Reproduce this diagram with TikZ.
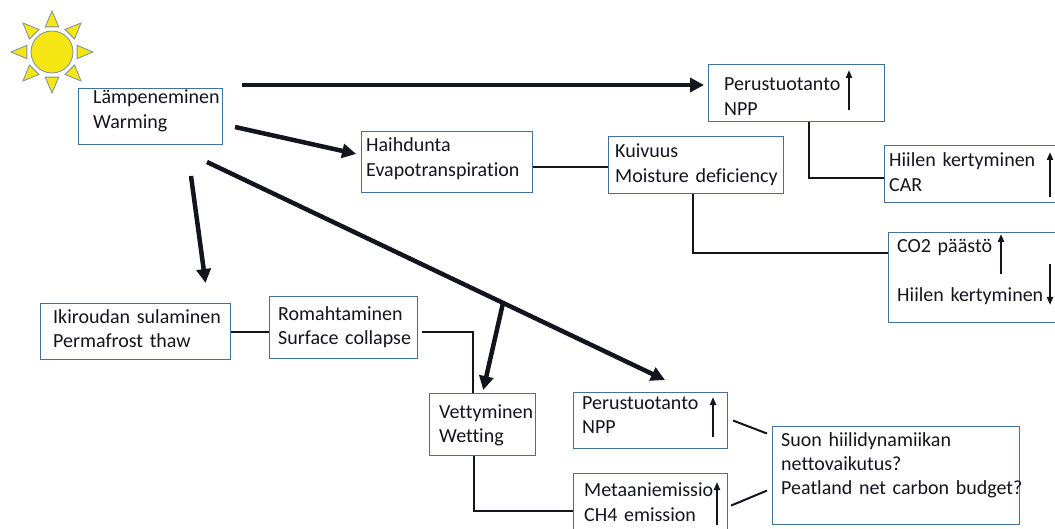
\documentclass[tikz,border=0pt]{standalone}
\usepackage{fontspec}
\setmainfont{Carlito}[Ligatures=NoCommon]
\usepackage{tikz}
\usetikzlibrary{arrows.meta}
\definecolor{boxblue}{RGB}{65,113,156}
\definecolor{sunyellow}{RGB}{245,230,20}
\definecolor{sunedge}{RGB}{120,143,165}
\definecolor{ink}{RGB}{20,20,30}

\begin{document}
\begin{tikzpicture}[x=1pt, y=-1pt,
		box/.style={draw=boxblue, line width=1.1pt, rectangle, anchor=north west, inner sep=0pt},
		txt/.style={anchor=base west, inner sep=0pt, text width=260pt, align=left, text=ink, font=\fontsize{20}{24.4}\selectfont},
		big/.style={draw=ink, line width=4.5pt, -{Triangle[length=14pt,width=14pt]}},
		link/.style={draw=ink, line width=2pt},
		updown/.style={draw=ink, line width=2pt, -{Triangle[length=8pt,width=6pt]}},
		sunray/.style={fill=sunyellow, draw=sunedge, line width=0.8pt}]
		\clip (0,0) rectangle (1055,529);
		\coordinate (sun) at (52,52);
		\foreach \a in {0,45,...,315}
			\filldraw[sunray, shift={(sun)}] (\a-15:26) -- (\a:41) -- (\a+15:26) -- cycle;
		\filldraw[sunray] (sun) circle (21pt);
		\node[box, minimum width=144pt, minimum height=56pt] (warm) at (78,88) {};
		\node[box, minimum width=176pt, minimum height=57pt] (per1) at (708,64) {};
		\node[box, minimum width=181pt, minimum height=57pt] (car) at (884,145) {};
		\node[box, minimum width=180pt, minimum height=90pt] (co2) at (888,232) {};
		\node[box, minimum width=171pt, minimum height=61pt] (haih) at (361,131) {};
		\node[box, minimum width=175pt, minimum height=57pt] (kuiv) at (608,136) {};
		\node[box, minimum width=190pt, minimum height=56pt] (iki) at (40,303) {};
		\node[box, minimum width=148pt, minimum height=62pt] (rom) at (269,296) {};
		\node[box, minimum width=106pt, minimum height=62pt] (vet) at (429,393) {};
		\node[box, minimum width=154pt, minimum height=56pt] (per2) at (573,392) {};
		\node[box, minimum width=154pt, minimum height=74pt] (meta) at (573,473) {};
		\node[box, minimum width=247pt, minimum height=98pt] (suon) at (772,426) {};
		\node[txt] (warm-t) at ([xshift=15pt,yshift=-16pt]warm.north west) {Lämpeneminen\\Warming};
		\node[txt] (per1-t) at ([xshift=16pt,yshift=-27pt]per1.north west) {Perustuotanto\\NPP};
		\node[txt] (car-t) at ([xshift=5pt,yshift=-21.7pt]car.north west) {Hiilen kertyminen\\CAR};
		\node[txt] (co2-t) at ([xshift=9pt,yshift=-20.7pt]co2.north west) {CO2 päästö\\[24pt]Hiilen kertyminen};
		\node[txt] (haih-t) at ([xshift=5pt,yshift=-21pt]haih.north west) {Haihdunta\\Evapotranspiration};
		\node[txt] (kuiv-t) at ([xshift=7pt,yshift=-21.7pt]kuiv.north west) {Kuivuus\\Moisture deficiency};
		\node[txt] (iki-t) at ([xshift=13pt,yshift=-20.3pt]iki.north west) {Ikiroudan sulaminen\\Permafrost thaw};
		\node[txt] (rom-t) at ([xshift=9pt,yshift=-24pt]rom.north west) {Romahtaminen\\Surface collapse};
		\node[txt] (vet-t) at ([xshift=10pt,yshift=-25.3pt]vet.north west) {Vettyminen\\Wetting};
		\node[txt] (per2-t) at ([xshift=9pt,yshift=-17.3pt]per2.north west) {Perustuotanto\\NPP};
		\node[txt] (meta-t) at ([xshift=11pt,yshift=-23.7pt]meta.north west) {Metaaniemissio\\CH4 emission};
		\node[txt] (suon-t) at ([xshift=9pt,yshift=-20pt]suon.north west) {Suon hiilidynamiikan\\nettovaikutus?\\Peatland net carbon budget?};
		\coordinate (w1) at (242,85);
		\coordinate (w2) at (235,127);
		\coordinate (w3) at (191,176);
		\coordinate (w4) at (207,162);
		\coordinate (fork) at (503,303);
		\coordinate (r1) at (422,332);
		\draw[big, shorten >=4pt] (w1) -- (w1 -| per1.west);
		\draw[big, shorten >=5pt] (w2) -- ([yshift=7pt]haih.west);
		\draw[big] (w3) -- ([xshift=70pt,yshift=20pt]iki.north);
		\draw[big] (w4) -- ([xshift=92pt,yshift=12pt]per2.north west);
		\draw[big, shorten >=3pt] (fork) -- (vet.north);
		\draw[link] (iki.east) -- (iki.east -| rom.west);
		\draw[link] (r1) -| ([xshift=-10pt]vet.north);
		\draw[link] ([yshift=-4.5pt]haih.east) -- ([yshift=-1.5pt]kuiv.west);
		\draw[link] ([xshift=-3pt]kuiv.south) |- ([yshift=25pt]co2.west);
		\draw[link] ([xshift=12pt]per1.south) |- ([yshift=-3.5pt]car.west);
		\draw[link] ([xshift=-9pt]vet.south) |- (meta.west);
		\draw[link] ([xshift=5pt]per2.east) -- ([xshift=-5pt,yshift=42pt]suon.west);
		\draw[link] ([xshift=3pt,yshift=5pt]meta.east) -- ([xshift=-5pt,yshift=-15pt]suon.west);
		\draw[updown] ([xshift=141pt,yshift=-46pt]per1.north west) -- ++(0,-40);
		\draw[updown] ([xshift=166pt,yshift=-52pt]car.north west) -- ++(0,-45);
		\draw[updown] ([xshift=113pt,yshift=-42pt]co2.north west) -- ++(0,-40);
		\draw[updown] ([xshift=162pt,yshift=-32pt]co2.north west) -- ++(0,41);
		\draw[updown] ([xshift=140pt,yshift=-45pt]per2.north west) -- ++(0,-40);
		\draw[updown] ([xshift=144pt,yshift=-52pt]meta.north west) -- ++(0,-43);
\end{tikzpicture}
\end{document}
